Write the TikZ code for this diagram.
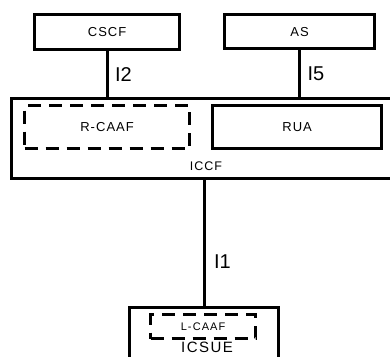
\documentclass[tikz,border=0pt]{standalone}
\usepackage{fontspec}
\setmainfont{Liberation Sans}
\begin{document}
\begin{tikzpicture}[x=1pt,y=-1pt,
  box/.style={draw=black,line width=3.2pt,inner sep=0pt,anchor=north west},
  dbox/.style={draw=black,line width=3.2pt,dash pattern=on 13pt off 8pt,inner sep=0pt,anchor=north west},
  link/.style={draw=black,line width=3.2pt},
  btxt/.style={font=\fontsize{13}{15}\selectfont\addfontfeature{LetterSpace=8}},
  ltxt/.style={font=\fontsize{20}{22}\selectfont,anchor=west}]
\useasboundingbox (0,0) rectangle (390,356);
% top boxes
\node[box,btxt,minimum width=145pt,minimum height=35pt] (CSCF) at (33,13) {CSCF};
\node[box,btxt,minimum width=150pt,minimum height=34pt] (AS) at (223,13) {AS};
% ICCF
\node[box,minimum width=385pt,minimum height=80pt] (ICCF) at (10,97) {};
\node[dbox,btxt,minimum width=165pt,minimum height=43pt] (RCAAF) at (23,104) {R-CAAF};
\node[box,btxt,minimum width=169pt,minimum height=43pt] (RUA) at (211,104) {RUA};
\node[font=\fontsize{12.5}{14}\selectfont\addfontfeature{LetterSpace=8}] (ICCFt) at (206,166.5) {ICCF};
% ICSUE
\node[box,minimum width=149pt,minimum height=70pt] (ICSUE) at (128,306) {};
\node[dbox,font=\fontsize{11}{13}\selectfont\addfontfeature{LetterSpace=10},minimum width=105pt,minimum height=24pt] (LCAAF) at (149,313) {L-CAAF};
\node[font=\fontsize{15}{17}\selectfont\addfontfeature{LetterSpace=10}] (ICSUEt) at (207,347) {ICSUE};
% connectors
\draw[link] (CSCF.south) -- (CSCF.south |- ICCF.north) node[ltxt,midway,xshift=3pt] (I2) {I2};
\draw[link] (AS.south) -- (AS.south |- ICCF.north) node[ltxt,midway,xshift=3pt] (I5) {I5};
\draw[link] (ICSUE.north) -- (ICSUE.north |- ICCF.south) node[ltxt,pos=0.35,xshift=5pt] (I1) {I1};
\end{tikzpicture}
\end{document}
